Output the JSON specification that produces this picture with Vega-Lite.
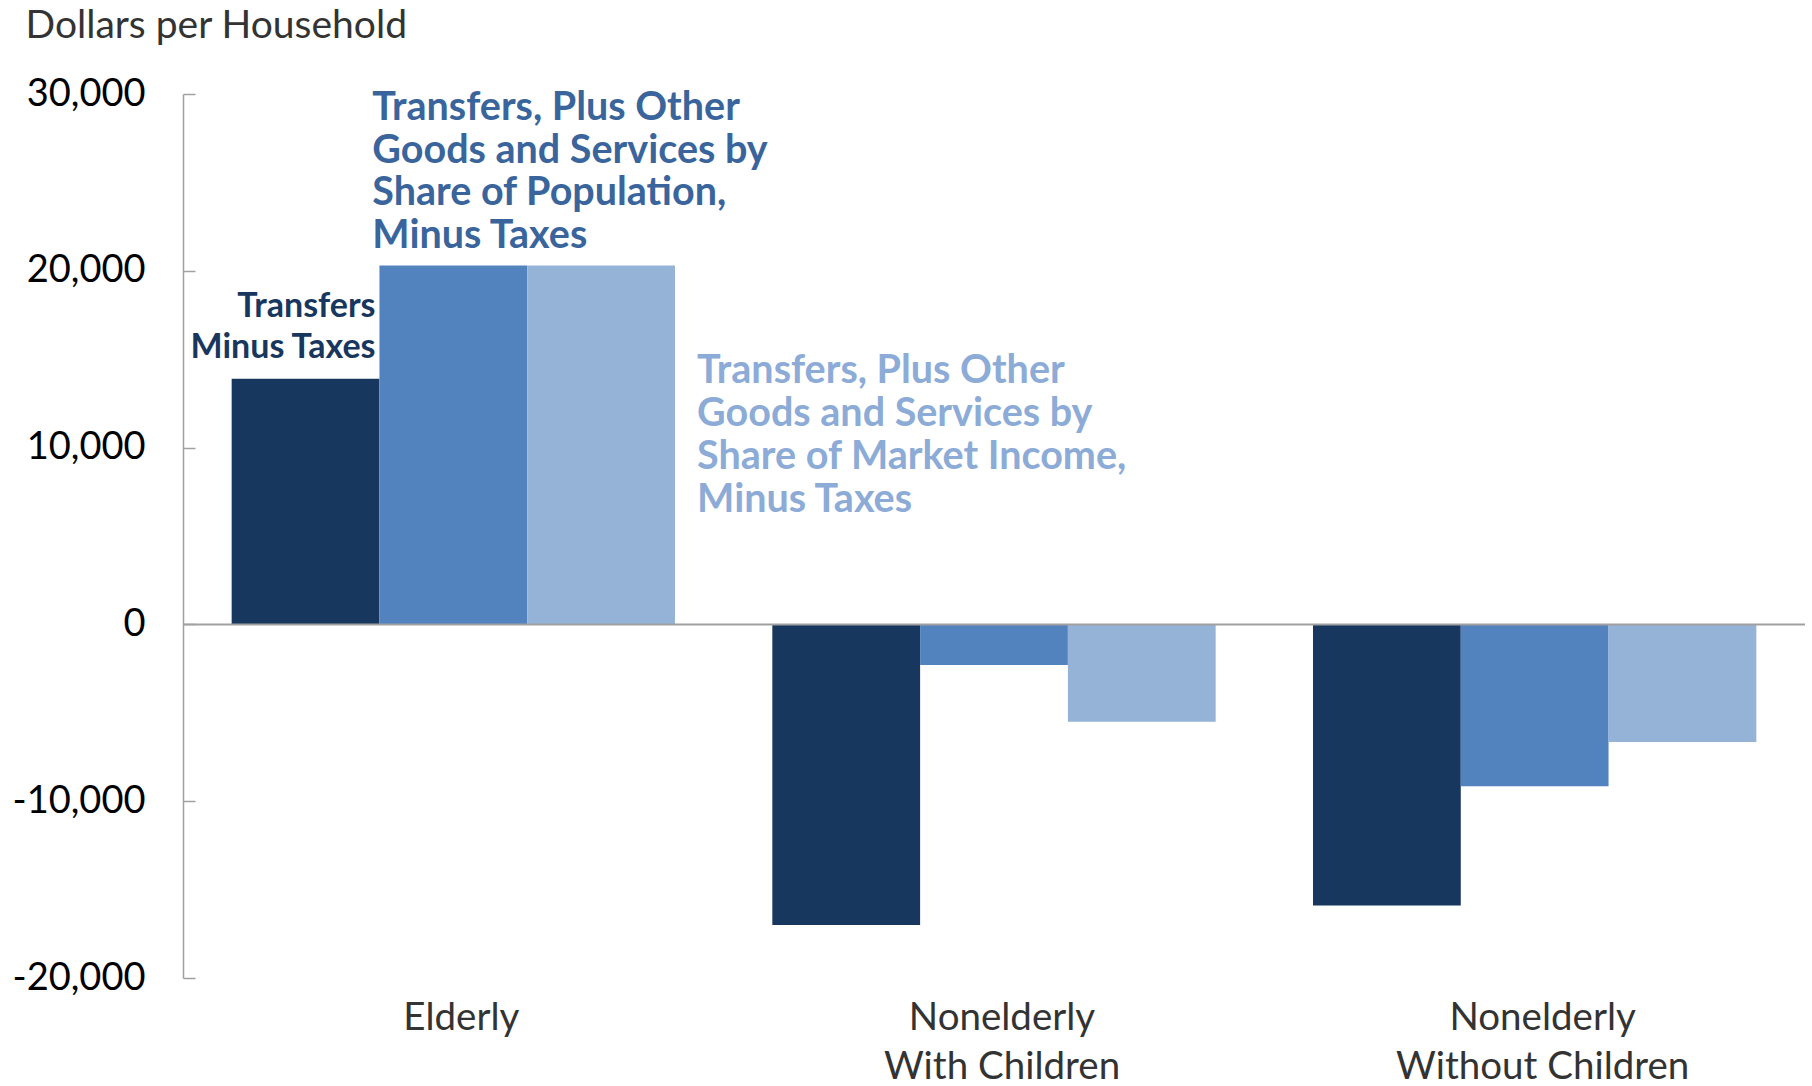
{
  "$schema": "https://vega.github.io/schema/vega-lite/v6.json",
  "autosize": {"type": "none"},
  "width": 1622,
  "height": 884,
  "padding": {"left": 183, "top": 94, "right": 7, "bottom": 108},
  "background": "white",
  "config": {"view": {"stroke": null}, "font": "Lato"},
  "layer": [
    {
      "data": {"values": [
        {"g": "Elderly", "s": "Transfers Minus Taxes", "v": 13900},
        {"g": "Elderly", "s": "By Share of Population", "v": 20300},
        {"g": "Elderly", "s": "By Share of Market Income", "v": 20300},
        {"g": "Nonelderly|With Children", "s": "Transfers Minus Taxes", "v": -17000},
        {"g": "Nonelderly|With Children", "s": "By Share of Population", "v": -2300},
        {"g": "Nonelderly|With Children", "s": "By Share of Market Income", "v": -5500},
        {"g": "Nonelderly|Without Children", "s": "Transfers Minus Taxes", "v": -15900},
        {"g": "Nonelderly|Without Children", "s": "By Share of Population", "v": -9150},
        {"g": "Nonelderly|Without Children", "s": "By Share of Market Income", "v": -6650}
      ]},
      "mark": {"type": "bar"},
      "encoding": {
        "x": {
          "field": "g", "type": "nominal", "sort": null,
          "scale": {"domain": ["Elderly", "Nonelderly|With Children", "Nonelderly|Without Children"], "paddingInner": 0.18, "paddingOuter": 0.09},
          "axis": {
            "title": null, "orient": "bottom", "domain": false, "ticks": false,
            "labelAngle": 0, "labelFontSize": 38.5, "labelColor": "#333333", "labelFont": "Lato", "labelLimit": 1000,
            "labelExpr": "split(datum.label, '|')", "labelLineHeight": 49, "labelPadding": 21, "labelOffset": 8
          }
        },
        "xOffset": {
          "field": "s", "type": "nominal", "sort": null,
          "scale": {"domain": ["Transfers Minus Taxes", "By Share of Population", "By Share of Market Income"], "paddingInner": 0, "paddingOuter": 0}
        },
        "y": {
          "field": "v", "type": "quantitative",
          "scale": {"domain": [-20000, 30000], "nice": false},
          "axis": {
            "values": [-20000, -10000, 0, 10000, 20000, 30000], "grid": false,
            "labelExpr": "(datum.value < 0 ? '-' : '') + format(abs(datum.value), ',')",
            "domainColor": "#a0a0a0", "domainWidth": 1.5, "tickColor": "#a0a0a0", "tickWidth": 1.5, "tickSize": -12,
            "labelFontSize": 38, "labelColor": "#000000", "labelPadding": 50, "labelFont": "Lato",
            "title": "Dollars per Household", "titleAngle": 0, "titleAlign": "left", "titleBaseline": "middle",
            "titleX": -158, "titleY": -69, "titleFontSize": 39, "titleFontWeight": "normal", "titleColor": "#333333", "titleFont": "Lato"
          }
        },
        "color": {
          "field": "s", "type": "nominal",
          "scale": {"domain": ["Transfers Minus Taxes", "By Share of Population", "By Share of Market Income"], "range": ["#17375E", "#5283BF", "#95B3D7"]},
          "legend": null
        }
      }
    },
    {
      "data": {"values": [{"v": 0}]},
      "mark": {"type": "rule", "color": "#a0a0a0", "strokeWidth": 2},
      "encoding": {"y": {"field": "v", "type": "quantitative"}}
    },
    {
      "data": {"values": [{"g": "Elderly", "s": "Transfers Minus Taxes", "v": 17970, "t": "Transfers|Minus Taxes"}]},
      "mark": {"type": "text", "align": "right", "baseline": "middle", "dx": 70, "fontSize": 34, "fontWeight": "bold", "color": "#17375E", "lineBreak": "|", "lineHeight": 41.5, "font": "Lato"},
      "encoding": {
        "x": {"field": "g", "type": "nominal"},
        "xOffset": {"field": "s", "type": "nominal"},
        "y": {"field": "v", "type": "quantitative"},
        "text": {"field": "t"}
      }
    },
    {
      "data": {"values": [{"g": "Elderly", "s": "By Share of Population", "v": 29220, "t": "Transfers, Plus Other|Goods and Services by|Share of Population,|Minus Taxes"}]},
      "mark": {"type": "text", "align": "left", "baseline": "middle", "dx": -81, "fontSize": 39.5, "fontWeight": "bold", "color": "#3A659C", "lineBreak": "|", "lineHeight": 42.8, "font": "Lato"},
      "encoding": {
        "x": {"field": "g", "type": "nominal"},
        "xOffset": {"field": "s", "type": "nominal"},
        "y": {"field": "v", "type": "quantitative"},
        "text": {"field": "t"}
      }
    },
    {
      "data": {"values": [{"g": "Elderly", "s": "By Share of Market Income", "v": 14320, "t": "Transfers, Plus Other|Goods and Services by|Share of Market Income,|Minus Taxes"}]},
      "mark": {"type": "text", "align": "left", "baseline": "middle", "dx": 96, "fontSize": 39.5, "fontWeight": "bold", "color": "#8CABD7", "lineBreak": "|", "lineHeight": 42.8, "font": "Lato"},
      "encoding": {
        "x": {"field": "g", "type": "nominal"},
        "xOffset": {"field": "s", "type": "nominal"},
        "y": {"field": "v", "type": "quantitative"},
        "text": {"field": "t"}
      }
    }
  ]
}
